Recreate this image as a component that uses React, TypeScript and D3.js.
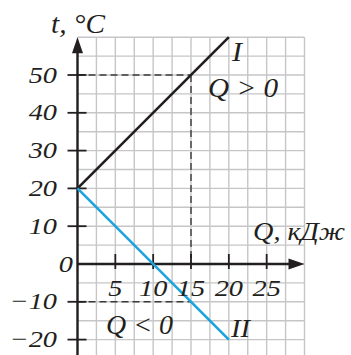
import React from "react";
import * as d3 from "d3";

const W = 351;
const H = 355;

const lineI: [number, number][] = [[0, 20], [20, 60]];
const lineII: [number, number][] = [[0, 20], [20, -20]];
const yTicks = [50, 40, 30, 20, 10, -10, -20];
const xTicks = [5, 10, 15, 20, 25];
const gridX = d3.range(0, 30.01, 2.5);
const gridY = d3.range(60, -26, -5);
const dashPoint = { q: 15, t: 50 };
const dashNeg = { q: 15, t: -10 };

const SX = 1.18;

function T({ x, y, anchor = "start", children }: { x: number; y: number; anchor?: string; children: React.ReactNode }) {
  return (
    <text transform={`translate(${x},${y}) scale(${SX},1)`} textAnchor={anchor}>
      {children}
    </text>
  );
}

function L({ x, y, w, size, children }: { x: number; y: number; w: number; size: number; children: React.ReactNode }) {
  return (
    <text x={x} y={y} fontSize={size} textLength={w} lengthAdjust="spacingAndGlyphs">
      {children}
    </text>
  );
}

export default function App() {
  const x = d3.scaleLinear().domain([0, 30]).range([77.5, 304.5]);
  const y = d3.scaleLinear().domain([0, 50]).range([264, 75]);
  const line = d3.line<[number, number]>().x(d => x(d[0])).y(d => y(d[1]));
  const font = "'Liberation Serif', 'Times New Roman', serif";
  const fs = 24;
  const x0 = x(0);
  const y0 = y(0);
  return (
    <svg width={W} height={H} style={{ position: "absolute", left: 0, top: 0, background: "#fff" }}
      fontFamily={font} fontStyle="italic" fontSize={fs} fill="#231f20">
      {/* grid */}
      <g stroke="#c6c6c8" strokeWidth={1.4}>
        {gridX.map(q => (
          <line key={"gx" + q} x1={x(q)} x2={x(q)} y1={y(60)} y2={H} />
        ))}
        {gridY.map(t => (
          <line key={"gy" + t} x1={x(0)} x2={x(30)} y1={y(t)} y2={y(t)} />
        ))}
      </g>
      {/* dashed helper lines */}
      <g stroke="#3a3a3a" strokeWidth={1.4} strokeDasharray="7 4" fill="none">
        <line x1={x0} x2={x(dashPoint.q)} y1={y(dashPoint.t)} y2={y(dashPoint.t)} />
        <line x1={x(dashPoint.q)} x2={x(dashPoint.q)} y1={y(dashPoint.t)} y2={y0} />
        <line x1={x0} x2={x(dashNeg.q)} y1={y(dashNeg.t)} y2={y(dashNeg.t)} />
      </g>
      {/* axes */}
      <g stroke="#231f20" strokeWidth={2.4}>
        <line x1={x0} x2={x0} y1={H} y2={y(60) + 10} />
        <line x1={x0} x2={x(30) - 10} y1={y0} y2={y0} />
        {yTicks.map(t => (
          <line key={"yt" + t} x1={x0 - 10} x2={x0 + 9} y1={y(t)} y2={y(t)} strokeWidth={1.8} />
        ))}
        {xTicks.map(q => (
          <line key={"xt" + q} x1={x(q)} x2={x(q)} y1={y0 - 10} y2={y0 + 5} strokeWidth={1.8} />
        ))}
      </g>
      <path d={`M${x0},${y(60)} L${x0 - 5.5},${y(60) + 16} L${x0 + 5.5},${y(60) + 16} Z`} fill="#231f20" />
      <path d={`M${x(30)},${y0} L${x(30) - 16},${y0 - 5.5} L${x(30) - 16},${y0 + 5.5} Z`} fill="#231f20" />
      {/* data lines */}
      <path d={line(lineI) || ""} stroke="#231f20" strokeWidth={2.6} fill="none" />
      <path d={line(lineII) || ""} stroke="#1ba3de" strokeWidth={2.6} fill="none" />
      {/* tick labels */}
      {yTicks.map(t => (
        <T key={"yl" + t} x={57} y={y(t) + 7.5} anchor="end">
          {t < 0 ? "\u2212" + Math.abs(t) : String(t)}
        </T>
      ))}
      <T x={73} y={y0 + 8} anchor="end">0</T>
      {xTicks.map(q => (
        <T key={"xl" + q} x={x(q)} y={295.5} anchor="middle">{q}</T>
      ))}
      {/* titles & annotations */}
      <L x={51} y={33} w={54} size={27}>t, °C</L>
      <L x={253} y={240} w={92} size={26}>Q, кДж</L>
      <L x={232} y={61} w={10} size={27}>I</L>
      <L x={231} y={337} w={19} size={25}>II</L>
      <L x={208} y={97} w={70} size={28}>Q &gt; 0</L>
      <L x={106} y={334} w={67} size={28}>Q &lt; 0</L>
    </svg>
  );
}
